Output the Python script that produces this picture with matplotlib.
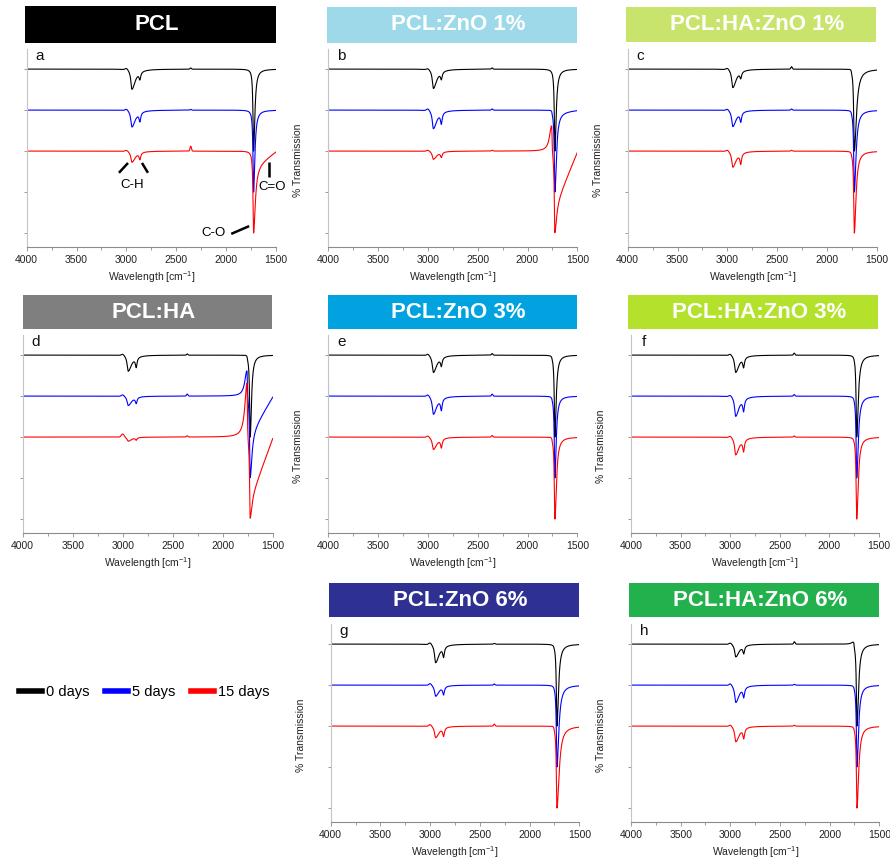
import numpy as np
import matplotlib
matplotlib.use("Agg")
import matplotlib.pyplot as plt
from matplotlib.patches import Rectangle
from matplotlib.ticker import MultipleLocator, FixedLocator, NullFormatter

plt.rcParams['font.family'] = ['Liberation Sans', 'DejaVu Sans']
plt.rcParams['mathtext.fontset'] = 'custom'
plt.rcParams['mathtext.rm'] = 'Liberation Sans'
plt.rcParams['mathtext.it'] = 'Liberation Sans'

# ---- panels -------------------------------------------------------------
PANEL_TAGS = ['a', 'b', 'c', 'd', 'e', 'f', 'g', 'h']
TITLES = ['PCL', 'PCL:ZnO 1%', 'PCL:HA:ZnO 1%',
          'PCL:HA', 'PCL:ZnO 3%', 'PCL:HA:ZnO 3%',
          'PCL:ZnO 6%', 'PCL:HA:ZnO 6%']
TITLE_COLORS = ['#000000', '#9dd9e9', '#c9e46c',
                '#7f7f7f', '#00a3e0', '#b4e12b',
                '#2e3192', '#23b14d']

# ---- series (degradation time) -----------------------------------------
SERIES = ['0 days', '5 days', '15 days']
SERIES_COLORS = ['#000000', '#0000ff', '#ff0000']
OFFSETS = [4.0, 3.0, 2.0]          # vertical stacking of the spectra

# ---- band parameters, one row per panel, [0 d, 5 d, 15 d] ---------------
# C-H stretching (2945 / 2865 cm-1) depths
CH_MAIN = [[0.49, 0.41, 0.27], [0.47, 0.45, 0.20], [0.45, 0.40, 0.39],
           [0.39, 0.23, 0.10], [0.42, 0.44, 0.30], [0.42, 0.49, 0.43],
           [0.45, 0.27, 0.28], [0.31, 0.42, 0.38]]
CH_SIDE = [[0.17, 0.21, 0.16], [0.17, 0.26, 0.12], [0.15, 0.22, 0.25],
           [0.23, 0.14, 0.06], [0.20, 0.27, 0.21], [0.23, 0.29, 0.28],
           [0.24, 0.19, 0.20], [0.18, 0.23, 0.24]]
CH_SHOULDER = [[0.04, 0.04, 0.03], [0.03, 0.05, 0.03], [0.04, 0.04, 0.04],
               [0.04, 0.04, 0.08], [0.04, 0.05, 0.04], [0.04, 0.04, 0.04],
               [0.05, 0.05, 0.05], [0.04, 0.05, 0.04]]
# CO2 artefact near 2350 cm-1
CO2_BUMP = [[0.03, 0.02, 0.12], [0.03, 0.03, 0.02], [0.06, 0.03, 0.02],
            [0.03, 0.05, 0.03], [0.04, 0.05, 0.04], [0.05, 0.04, 0.03],
            [0.02, 0.03, 0.05], [0.06, 0.02, 0.02]]
# C=O stretching (1725 cm-1): total depth, low-side width, broad tail part
CO_DEPTH = [[2.0, 2.0, 2.0], [2.0, 2.0, 2.0], [2.0, 2.0, 2.0],
            [2.0, 2.0, 2.0], [2.0, 2.0, 2.0], [2.0, 2.0, 2.0],
            [2.0, 2.0, 2.0], [2.0, 2.0, 2.0]]
CO_WIDTH_LOW = [[15, 15, 20], [15, 18, 20], [25, 20, 20],
                [15, 20, 20], [15, 15, 18], [18, 18, 18],
                [18, 22, 26], [18, 18, 20]]
CO_TAIL = [[0.0, 0.0, 0.40], [0.0, 0.05, 1.35], [0.0, 0.0, 0.0],
           [0.0, 0.93, 1.53], [0.0, 0.0, 0.0], [0.0, 0.0, 0.0],
           [0.0, 0.0, 0.0], [0.0, 0.0, 0.0]]
# upward shoulder just before the carbonyl band (~1757 cm-1)
PRE_RISE = [[0.0, 0.0, 0.0], [0.0, 0.05, 0.70], [0.05, 0.03, 0.03],
            [0.05, 0.70, 1.40], [0.03, 0.03, 0.05], [0.02, 0.02, 0.02],
            [0.02, 0.02, 0.05], [0.12, 0.03, 0.03]]
# jump of the first recorded point at 4000 cm-1
EDGE_SPIKE = [[0.05, 0.40, 2.50], [0.40, 0.55, 2.60], [0.30, 0.90, 0.60],
              [0.05, 0.60, 2.60], [0.20, 1.50, 0.65], [0.55, 0.50, 0.80],
              [0.50, 0.60, 0.90], [0.50, 0.50, 0.70]]

WAVENUMBER = np.linspace(4000, 1500, 2501)

# ---- layout in pixels: (left, right, top, bottom) ----------------------
W, H = 890, 861
AX_BOX = [(26.7, 276.0, 49, 247), (328.3, 577.3, 49, 247), (627.7, 876.7, 49, 247),
          (22.7, 272.7, 335, 533), (328.3, 577.3, 335, 533), (631.0, 879.0, 335, 533),
          None,
          (330.7, 579.3, 624, 822), (631.0, 879.3, 624, 822)]
TITLE_BOX = [(25.0, 276.0, 6, 43), (326.7, 577.3, 7, 43), (626.0, 876.0, 7, 42),
             (22.7, 271.7, 295, 329), (327.7, 577.3, 295, 329), (627.7, 878.3, 295, 329),
             None,
             (329.3, 579.3, 583, 617), (629.0, 879.0, 583, 617)]
SHOW_YLABEL = [False, True, True, False, True, True, None, True, True]


def lorentz(x, c, w):
    return 1.0 / (1.0 + ((x - c) / w) ** 2)


def split_lorentz(x, c, w_hi, w_lo):
    w = np.where(x >= c, w_hi, w_lo)
    return 1.0 / (1.0 + ((x - c) / w) ** 2)


def spectrum(p, s):
    x = WAVENUMBER
    y = np.full_like(x, OFFSETS[s])
    # C-H region
    y += CH_SHOULDER[p][s] * np.exp(-0.5 * ((x - 3000) / 14) ** 2)
    y -= CH_MAIN[p][s] * split_lorentz(x, 2945, 13, 40)
    y -= CH_SIDE[p][s] * lorentz(x, 2865, 10)
    y += CO2_BUMP[p][s] * np.exp(-0.5 * ((x - 2355) / 7) ** 2)
    # carbonyl region
    tail = CO_TAIL[p][s]
    sharp = CO_DEPTH[p][s] - tail
    y -= sharp * split_lorentz(x, 1725, 7, CO_WIDTH_LOW[p][s])
    broad = np.where(x <= 1725, np.clip(1 - (1725 - x) / 230.0, 0, 1),
                     lorentz(x, 1725, 7))
    y -= tail * broad
    y += PRE_RISE[p][s] * split_lorentz(x, 1757, 25, 4)
    y[0] += EDGE_SPIKE[p][s]
    return y


fig = plt.figure(figsize=(W / 100, H / 100), dpi=100)

AXIS_GREY = '#8c8c8c'
axes = []
p = 0
for slot in range(9):
    if AX_BOX[slot] is None:
        continue
    l, r, t, b = AX_BOX[slot]
    ax = fig.add_axes([l / W, 1 - b / H, (r - l) / W, (b - t) / H])
    axes.append(ax)
    for s in range(3):
        ax.plot(WAVENUMBER, spectrum(p, s), color=SERIES_COLORS[s], lw=0.8,
                label=SERIES[s])
    ax.set_xlim(4000, 1500)
    ax.set_ylim(-0.34, 4.49)
    ax.spines['top'].set_visible(False)
    ax.spines['right'].set_visible(False)
    ax.spines['bottom'].set_color(AXIS_GREY)
    ax.spines['left'].set_color('#c4c4c4')
    ax.spines['bottom'].set_linewidth(0.8)
    ax.spines['left'].set_linewidth(0.8)
    ax.xaxis.set_major_locator(MultipleLocator(500))
    ax.xaxis.set_minor_locator(MultipleLocator(250))
    ax.yaxis.set_major_locator(FixedLocator([0, 1, 2, 3, 4]))
    ax.yaxis.set_major_formatter(NullFormatter())
    ax.tick_params(axis='x', which='major', length=3, width=0.6, color=AXIS_GREY,
                   labelsize=7.5, labelcolor='#222222', pad=3)
    ax.tick_params(axis='x', which='minor', length=2, width=0.6, color=AXIS_GREY)
    ax.tick_params(axis='y', which='major', length=2.5, width=0.6, color=AXIS_GREY)
    ax.set_xlabel('Wavelength [cm$^{-1}$]', fontsize=7.5, color='#222222',
                  labelpad=2.5)
    if SHOW_YLABEL[slot]:
        ax.text(-0.12, 0.44, '% Transmission', transform=ax.transAxes,
                rotation=90, ha='center', va='center', fontsize=7.5,
                color='#222222')
    ax.text(0.052, 0.965, PANEL_TAGS[p], transform=ax.transAxes, ha='center',
            va='center', fontsize=11, color='#111111')

    tl, tr, tt, tb = TITLE_BOX[slot]
    fig.add_artist(Rectangle((tl / W, 1 - tb / H), (tr - tl) / W, (tb - tt) / H,
                             transform=fig.transFigure, facecolor=TITLE_COLORS[p],
                             edgecolor='none'))
    fig.text(((tl + tr) / 2 + 6) / W, 1 - ((tt + tb) / 2) / H, TITLES[p],
             ha='center', va='center', fontsize=16, fontweight='bold',
             color='white')
    p += 1

# band assignments in panel a
ax_a = axes[0]
kw = dict(color='black', lw=1.8, clip_on=False, solid_capstyle='butt')
ax_a.plot([3075, 2984], [1.47, 1.71], **kw)
ax_a.plot([2784, 2844], [1.47, 1.71], **kw)
ax_a.text(2944, 1.17, 'C-H', ha='center', va='center', fontsize=9.5)
ax_a.plot([1569, 1569], [1.37, 1.73], **kw)
ax_a.text(1540, 1.12, 'C=O', ha='center', va='center', fontsize=9.5,
          clip_on=False)
ax_a.plot([1949, 1769], [-0.02, 0.17], **kw)
ax_a.text(2130, 0.0, 'C-O', ha='center', va='center', fontsize=9.5)

handles = ax_a.get_lines()[:3]
leg = fig.legend(handles=handles, labels=SERIES, loc='center left',
                 bbox_to_anchor=(19 / W, 1 - 692 / H), ncol=3, frameon=False,
                 fontsize=10.5, handlelength=1.6, handletextpad=0.27,
                 columnspacing=1.05, borderpad=0, borderaxespad=0)
for h in leg.legend_handles:
    h.set_linewidth(4)

fig.savefig('out.png', dpi=100)
